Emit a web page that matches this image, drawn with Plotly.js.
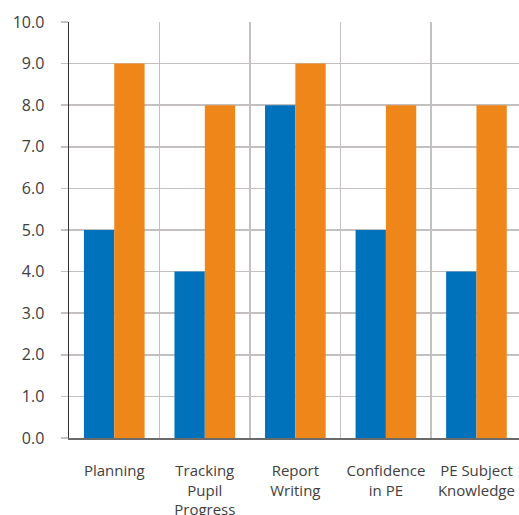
<!DOCTYPE html>
<html>
<head>
<meta charset="utf-8">
<script src="https://cdn.plot.ly/plotly-3.0.1.min.js"></script>
<style>
  html, body { margin: 0; padding: 0; background: #fff; }
  #chart { width: 519px; height: 515px; }
</style>
</head>
<body>
<div id="chart"></div>
<script>
// Category labels (line breaks as shown under each group)
const categories = [
  'Planning',
  'Tracking<br>Pupil<br>Progress',
  'Report<br>Writing',
  'Confidence<br>in PE',
  'PE Subject<br>Knowledge'
];

// Scores for the two series
const seriesBlue = [5, 4, 8, 5, 4];
const seriesOrange = [9, 8, 9, 8, 8];

// Y axis tick values
const yTicks = [0, 1, 2, 3, 4, 5, 6, 7, 8, 9, 10];

const fontFamily = '"Open Sans", Lato, sans-serif';

const traces = [
  {
    type: 'bar',
    x: categories,
    y: seriesBlue,
    marker: { color: '#0071BB' },
    hoverinfo: 'y'
  },
  {
    type: 'bar',
    x: categories,
    y: seriesOrange,
    marker: { color: '#EF861A' },
    hoverinfo: 'y'
  }
];

const layout = {
  width: 519,
  height: 515,
  margin: { l: 69, r: 0, t: 22, b: 77, pad: 0 },
  paper_bgcolor: '#ffffff',
  plot_bgcolor: '#ffffff',
  showlegend: false,
  barmode: 'group',
  bargap: 0.33,
  bargroupgap: 0,
  font: { family: fontFamily, size: 15, color: '#404040' },
  xaxis: {
    type: 'category',
    range: [-0.5, 4.47],
    tickson: 'boundaries',
    showgrid: true,
    gridcolor: '#c4c0c0',
    gridwidth: 1.5,
    ticks: '',
    showline: true,
    linecolor: '#6a6a6a',
    linewidth: 2,
    zeroline: false,
    ticklabelstandoff: 18,
    tickfont: { family: fontFamily, size: 15, color: '#404040' },
    fixedrange: true
  },
  yaxis: {
    range: [0, 10],
    tickvals: yTicks,
    tickformat: '.1f',
    showgrid: true,
    gridcolor: '#c4c0c0',
    gridwidth: 1.5,
    ticks: 'outside',
    ticklen: 7,
    tickcolor: '#c4c0c0',
    tickwidth: 1.5,
    showline: true,
    linecolor: '#333333',
    linewidth: 1.5,
    zeroline: false,
    ticklabelstandoff: 13,
    tickfont: { family: fontFamily, size: 16, color: '#404040' },
    fixedrange: true
  }
};

Plotly.newPlot('chart', traces, layout, { displayModeBar: false, staticPlot: true });
</script>
</body>
</html>
